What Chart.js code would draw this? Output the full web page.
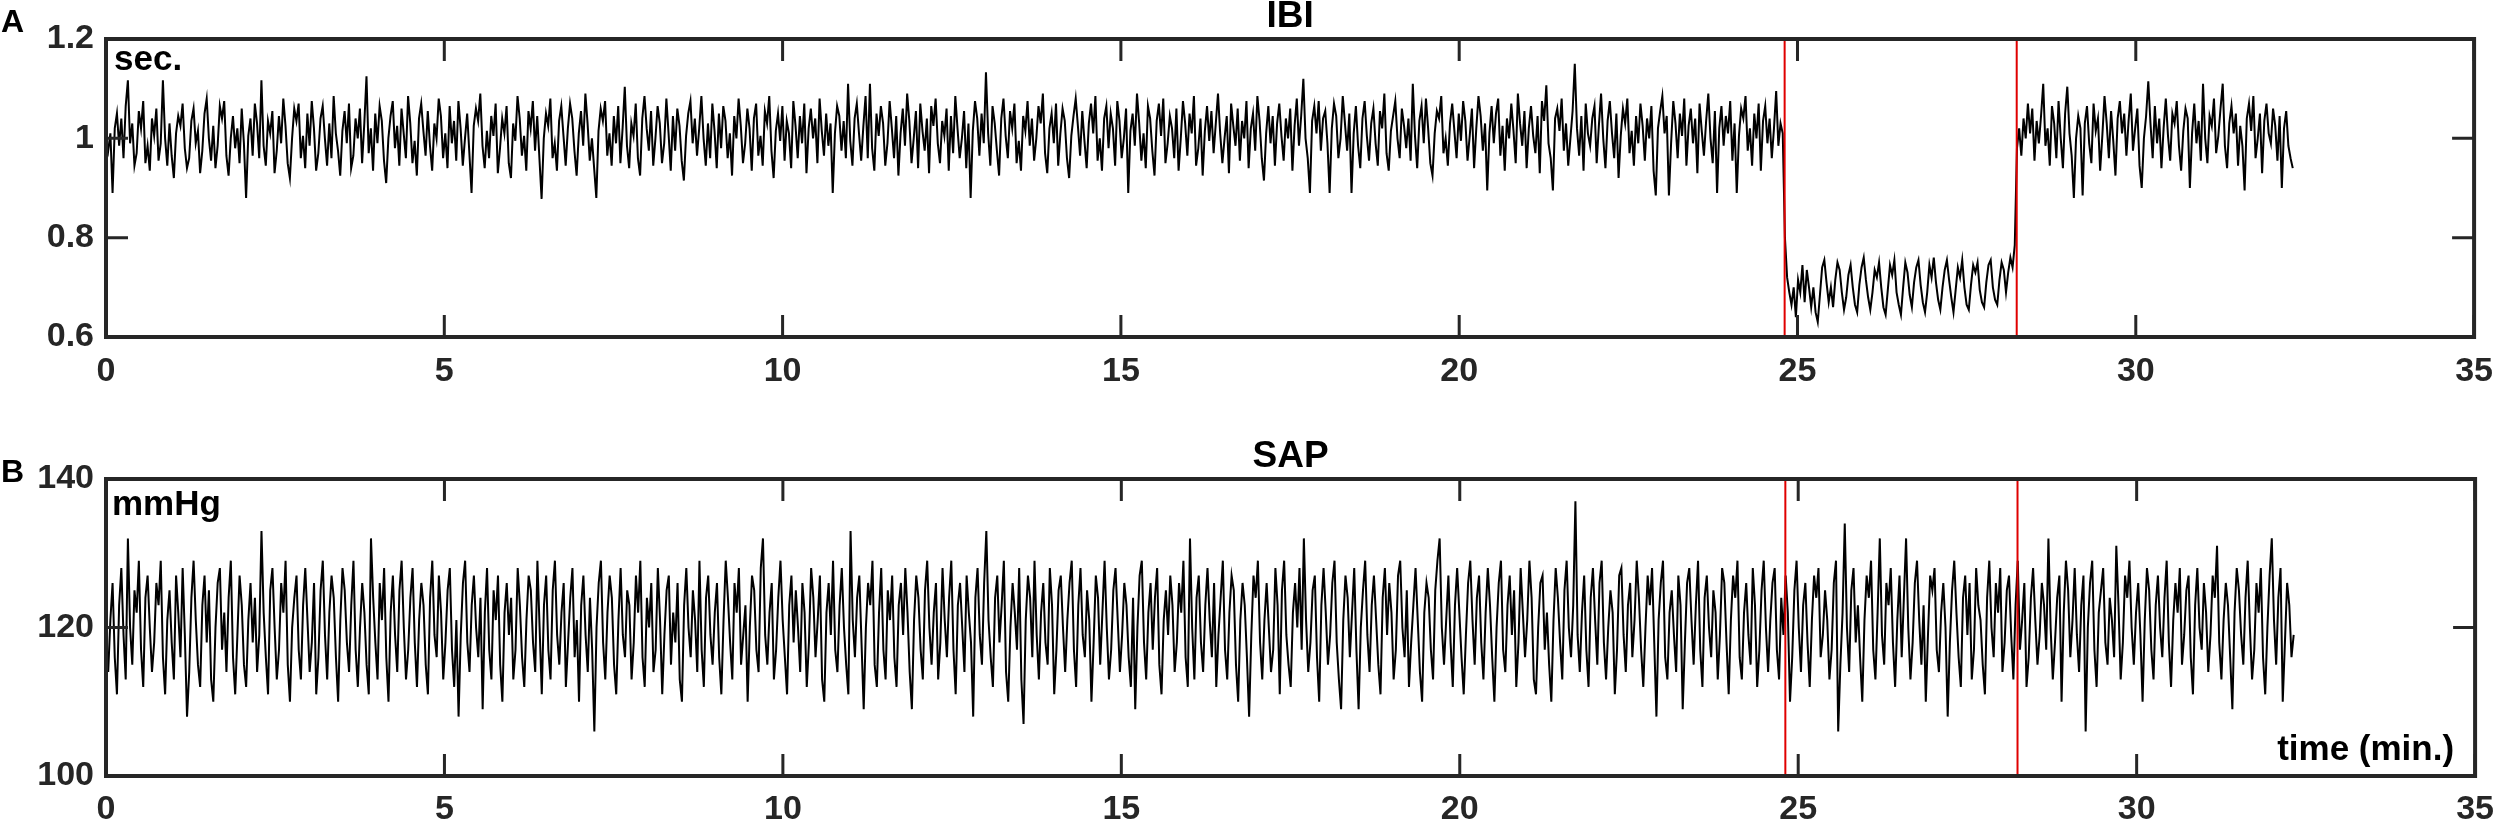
<!DOCTYPE html>
<html>
<head>
<meta charset="utf-8">
<script src="https://cdn.jsdelivr.net/npm/chart.js@4.4.1/dist/chart.umd.min.js"></script>
<style>
	html, body { margin: 0; padding: 0; background: #fff; }
	#wrap { position: relative; width: 2507px; height: 823px; overflow: hidden; }
	#wrap canvas { position: absolute; left: 0; }
</style>
</head>
<body>
<div id="wrap">
	<canvas id="ibiChart" width="2507" height="420" style="top:0"></canvas>
	<canvas id="sapChart" width="2507" height="403" style="top:420px"></canvas>
</div>
<script>
// time of last sample, minutes (samples are evenly spaced from 0)
const recordEnd = 32.32;
// red markers: start and end of the intervention, minutes
const markerTimes = [24.81, 28.24];

const xTicks = [0, 5, 10, 15, 20, 25, 30, 35];
const ibiTicks = [0.6, 0.8, 1.0, 1.2];
const sapTicks = [100, 120, 140];

// IBI, milliseconds
const ibiMs = [
	1000, 975, 1010, 890, 1020, 1050, 985, 1040, 960, 1065, 1117, 990, 1030, 945, 970, 1055, 1020, 1075, 950, 985,
	935, 1040, 1005, 1060, 955, 990, 1117, 1000, 945, 1030, 965, 920, 1010, 1045, 1025, 1070, 980, 940, 960, 1035,
	1060, 990, 1015, 930, 975, 1050, 1080, 1000, 955, 1025, 940, 985, 1065, 1040, 1075, 965, 925, 1000, 1045, 980,
	1020, 950, 1060, 990, 880, 1005, 1040, 965, 1070, 1030, 960, 1117, 985, 945, 1035, 1010, 1055, 930, 975, 1045,
	990, 1080, 1025, 950, 920, 1000, 1060, 1035, 1070, 960, 1005, 940, 1050, 985, 1075, 1020, 935, 970, 1040, 1065,
	1000, 945, 1030, 960, 1085, 1010, 975, 925, 1015, 1055, 990, 1070, 940, 965, 1040, 1000, 1060, 950, 1030, 1125,
	970, 1020, 935, 1050, 990, 1065, 1035, 955, 910, 1000, 1045, 1075, 980, 1025, 945, 1060, 1010, 960, 1085, 1030,
	950, 995, 925, 1040, 1070, 1015, 965, 1055, 985, 935, 1030, 1000, 1080, 1045, 960, 1010, 940, 1065, 990, 1035,
	955, 1075, 1020, 945, 1000, 1050, 970, 890, 1025, 1060, 1035, 1090, 985, 940, 1015, 960, 1045, 1005, 1070, 930,
	980, 1040, 1010, 1065, 950, 920, 1030, 995, 1085, 1040, 965, 1005, 935, 1055, 1020, 1075, 975, 1045, 960, 878,
	1000, 1050, 1025, 1080, 960, 990, 935, 1035, 1065, 1005, 945, 1020, 1070, 1040, 975, 925, 1010, 1055, 985, 1090,
	1030, 955, 1000, 940, 880, 1015, 1060, 1035, 1075, 965, 1010, 945, 1045, 990, 1065, 950, 1020, 1104, 985, 940,
	1030, 1005, 1070, 960, 925, 1040, 1085, 1020, 975, 1055, 945, 1000, 1065, 1030, 950, 990, 1080, 1010, 935, 1045,
	975, 1060, 1025, 955, 915, 1005, 1050, 1075, 990, 1040, 965, 1020, 1085, 1000, 945, 1030, 960, 1070, 1015, 940,
	1050, 980, 1065, 1035, 960, 1010, 925, 1045, 1000, 1080, 1025, 950, 990, 1060, 1020, 935, 1040, 1070, 965, 1005,
	945, 1055, 1030, 1085, 975, 920, 1015, 1050, 995, 1065, 955, 1035, 1010, 940, 1075, 1025, 960, 1045, 990, 1070,
	930, 1020, 1060, 1000, 1040, 950, 1080, 1015, 965, 1050, 985, 1030, 890, 1010, 1065, 1045, 975, 1035, 960, 1110,
	995, 945, 1040, 1070, 1010, 955, 1025, 1085, 960, 1110, 980, 935, 1050, 1005, 1065, 1030, 945, 990, 1075, 1020,
	960, 1045, 925, 1010, 1060, 985, 1090, 1035, 950, 1000, 1055, 940, 1070, 1015, 975, 1040, 930, 1065, 1025, 1080,
	990, 950, 1035, 1005, 1060, 935, 1045, 970, 1085, 1020, 960, 1000, 1055, 940, 1030, 880, 1015, 1075, 1040, 965,
	1050, 990, 1133, 1010, 945, 1065, 1030, 975, 925, 1040, 1080, 1005, 960, 1055, 1020, 1070, 950, 995, 935, 1045,
	1015, 1075, 985, 1040, 955, 1000, 1065, 1030, 1090, 970, 930, 1020, 1050, 990, 1070, 945, 1010, 1060, 1035, 960,
	920, 1005, 1045, 1080, 1025, 965, 1055, 995, 940, 1030, 1070, 1010, 1085, 955, 1000, 935, 1040, 1065, 980, 1050,
	1020, 945, 1075, 1035, 960, 1000, 1060, 890, 1015, 1050, 985, 1090, 1030, 955, 1010, 940, 1065, 1040, 975, 925,
	1035, 1070, 1005, 1080, 950, 990, 1045, 1020, 960, 1060, 935, 1000, 1075, 1030, 965, 1050, 1010, 1085, 945, 980,
	1040, 925, 1015, 1065, 995, 1055, 970, 1030, 1090, 1010, 950, 1000, 1045, 930, 1070, 1025, 985, 1060, 955, 1035,
	1000, 1075, 940, 1020, 1050, 975, 1085, 1035, 960, 915, 1010, 1065, 990, 1045, 945, 1030, 1070, 1005, 955, 1040,
	1000, 1060, 935, 1025, 1080, 985, 1045, 1120, 1000, 960, 890, 1035, 1065, 1010, 1075, 975, 1040, 1055, 990, 890,
	1020, 1070, 1045, 960, 1000, 1085, 1030, 975, 1050, 890, 1010, 1065, 985, 940, 1040, 1075, 1005, 955, 1030, 1060,
	990, 945, 1055, 1020, 1090, 970, 935, 1015, 1045, 1075, 1000, 960, 1060, 1025, 980, 1040, 955, 1110, 1005, 940,
	1035, 1065, 990, 1080, 1020, 950, 925, 1010, 1055, 1040, 1085, 970, 1000, 945, 1030, 1070, 1015, 960, 1050, 995,
	1075, 1035, 955, 1005, 1060, 940, 1020, 1085, 1045, 975, 1030, 895, 1010, 1065, 990, 1050, 1080, 965, 1025, 935,
	1040, 1000, 1070, 1015, 950, 1090, 1030, 985, 1055, 940, 1020, 1065, 1005, 970, 1045, 930, 1075, 1035, 1107, 990,
	960, 895, 1040, 1060, 1015, 1080, 975, 1030, 945, 1000, 1055, 1150, 1020, 965, 1045, 935, 1070, 1010, 985, 1040,
	1065, 950, 1025, 1090, 1000, 940, 1035, 1075, 1010, 960, 1050, 920, 1005, 1060, 1030, 1080, 970, 1015, 945, 1045,
	990, 1070, 1025, 955, 1040, 1000, 1065, 935, 885, 1020, 1055, 1085, 1010, 1045, 885, 990, 1075, 1030, 960, 1050,
	1005, 1080, 945, 1025, 1060, 990, 1040, 930, 1070, 1015, 965, 1035, 1090, 1000, 950, 1055, 890, 1020, 1065, 985,
	1045, 1010, 1075, 955, 1030, 890, 1005, 1060, 1040, 1085, 975, 1020, 945, 1050, 1000, 1070, 935, 1035, 1065, 990,
	1040, 960, 1020, 1095, 985, 1030, 1010, 800, 720, 690, 665, 700, 640, 715, 690, 745, 670, 735, 700, 660,
	700, 650, 630, 685, 740, 755, 710, 670, 700, 660, 715, 750, 735, 690, 655, 680, 725, 745, 700, 665,
	650, 705, 740, 760, 715, 680, 655, 690, 735, 720, 750, 700, 660, 645, 695, 745, 725, 755, 690, 665,
	645, 700, 750, 730, 685, 660, 710, 740, 755, 705, 670, 650, 690, 745, 720, 760, 710, 675, 655, 700,
	735, 755, 715, 680, 650, 695, 740, 720, 755, 700, 665, 655, 705, 745, 730, 750, 695, 670, 660, 710,
	745, 755, 700, 675, 665, 715, 750, 735, 690, 730, 760, 740, 785, 980, 1020, 965, 1040, 1000, 1070, 1010,
	1060, 955, 1035, 990, 1045, 1110, 985, 1020, 945, 1065, 1030, 960, 1075, 1000, 940, 1050, 1104, 1010, 965, 880,
	1000, 1045, 1020, 885, 1030, 1065, 990, 950, 1070, 1015, 1040, 935, 1005, 1085, 1030, 960, 1055, 995, 925, 1040,
	1075, 1010, 1050, 965, 1035, 1090, 975, 1020, 1060, 945, 900, 1000, 1045, 1115, 1030, 960, 1065, 990, 1040, 940,
	1020, 1080, 1005, 955, 1050, 1030, 1075, 985, 935, 1015, 1060, 1040, 900, 1010, 1070, 990, 1035, 955, 1110, 1000,
	950, 1045, 1025, 1080, 970, 1005, 1060, 1110, 985, 940, 1030, 1065, 1010, 1050, 945, 1025, 985, 895, 1040, 1070,
	1015, 1085, 960, 1000, 1050, 930, 1035, 1070, 1010, 990, 1060, 1025, 955, 1045, 900, 1020, 1055, 985, 960, 940,
];

// SAP, mmHg
const sapMmHg = [
	118, 114, 121, 126, 116, 111, 123, 128, 119, 113, 132, 120, 115, 125, 122, 129, 117, 112, 124, 127,
	120, 114, 118, 126, 123, 129, 116, 111, 121, 125, 118, 113, 127, 122, 116, 128, 119, 108, 114, 124,
	129, 121, 115, 112, 123, 127, 118, 125, 113, 110, 120, 126, 128, 117, 122, 114, 124, 129, 116, 111,
	119, 127, 123, 115, 112, 121, 126, 118, 124, 114, 119, 133, 122, 116, 111, 125, 128, 120, 113, 117,
	126, 122, 129, 115, 110, 120, 124, 127, 117, 113, 123, 128, 121, 114, 118, 126, 111, 116, 125, 129,
	119, 113, 122, 127, 124, 116, 110, 121, 128, 125, 118, 114, 123, 129, 117, 112, 120, 126, 122, 115,
	111, 132, 124, 118, 113, 126, 121, 128, 116, 110, 122, 127, 119, 114, 125, 129, 120, 113, 117, 124,
	128, 118, 112, 121, 126, 123, 115, 111, 124, 129, 119, 116, 127, 122, 113, 118, 125, 128, 117, 112,
	121, 108, 119, 126, 129, 118, 114, 123, 127, 120, 116, 124, 109, 122, 128, 117, 113, 125, 121, 127,
	115, 110, 122, 126, 119, 124, 113, 117, 128, 123, 116, 112, 121, 127, 125, 118, 114, 129, 120, 111,
	123, 127, 117, 113, 125, 129, 119, 115, 122, 126, 112, 118, 124, 128, 116, 121, 110, 123, 127, 119,
	114, 124, 117, 106, 120, 126, 129, 118, 113, 122, 127, 124, 115, 111, 121, 128, 119, 116, 125, 123,
	113, 118, 127, 122, 129, 116, 112, 124, 120, 126, 114, 117, 128, 121, 111, 119, 125, 127, 115, 122,
	118, 126, 113, 110, 123, 128, 120, 116, 125, 121, 114, 129, 117, 112, 124, 127, 119, 115, 122, 126,
	116, 111, 121, 129, 124, 118, 113, 126, 122, 128, 115, 119, 123, 110, 120, 127, 125, 117, 114, 128,
	132, 119, 115, 122, 126, 113, 117, 124, 129, 121, 116, 111, 123, 127, 118, 125, 120, 114, 126, 122,
	112, 118, 128, 124, 116, 121, 127, 113, 110, 122, 126, 119, 129, 117, 114, 123, 128, 120, 115, 111,
	133, 121, 116, 124, 127, 118, 109, 120, 126, 123, 129, 115, 112, 122, 128, 117, 113, 125, 121, 127,
	116, 112, 123, 126, 119, 128, 122, 114, 109, 121, 127, 124, 117, 113, 125, 129, 120, 115, 122, 126,
	113, 118, 128, 121, 116, 124, 129, 117, 111, 123, 126, 120, 114, 127, 122, 118, 108, 124, 128, 119,
	115, 126, 133, 121, 116, 112, 124, 127, 118, 123, 129, 114, 110, 120, 126, 122, 117, 128, 113, 107,
	121, 127, 124, 116, 129, 119, 113, 122, 126, 118, 115, 128, 123, 111, 117, 125, 127, 120, 114, 121,
	126, 129, 117, 112, 123, 128, 119, 116, 125, 121, 110, 118, 127, 124, 115, 122, 129, 120, 113, 117,
	125, 128, 121, 114, 119, 126, 123, 116, 112, 124, 109, 120, 127, 129, 118, 113, 122, 126, 117, 124,
	128, 115, 111, 121, 125, 119, 127, 123, 114, 118, 126, 122, 129, 116, 112, 132, 120, 113, 124, 127,
	118, 114, 123, 128, 121, 116, 126, 112, 119, 124, 129, 117, 113, 122, 127, 125, 115, 110, 121, 126,
	123, 116, 108, 119, 127, 124, 129, 118, 113, 121, 126, 120, 114, 117, 128, 123, 111, 125, 129, 119,
	115, 112, 122, 126, 120, 128, 117, 132, 121, 114, 118, 125, 127, 116, 110, 123, 128, 122, 115, 119,
	126, 129, 118, 113, 109, 121, 127, 124, 116, 122, 128, 117, 109, 120, 125, 129, 119, 114, 123, 127,
	121, 115, 111, 124, 128, 119, 126, 122, 113, 117, 127, 129, 120, 116, 125, 112, 118, 123, 128, 121,
	114, 110, 122, 126, 124, 117, 113, 125, 129, 132, 120, 115, 121, 127, 118, 112, 123, 128, 122, 116,
	111, 119, 126, 129, 121, 115, 124, 127, 118, 113, 122, 128, 123, 116, 110, 120, 126, 129, 117, 114,
	123, 127, 119, 125, 112, 118, 128, 122, 116, 121, 129, 124, 113, 111, 120, 126, 127, 117, 122, 115,
	110, 121, 128, 124, 118, 113, 125, 129, 120, 116, 123, 137, 119, 114, 122, 127, 117, 112, 124, 128,
	121, 115, 126, 129, 118, 113, 120, 125, 122, 111, 117, 127, 128, 119, 114, 123, 126, 116, 121, 129,
	124, 117, 112, 120, 127, 123, 128, 118, 108, 121, 126, 129, 116, 113, 122, 125, 119, 114, 127, 123,
	109, 118, 126, 128, 121, 115, 123, 129, 117, 112, 124, 127, 120, 116, 125, 122, 113, 119, 128, 126,
	118, 111, 121, 127, 124, 129, 116, 113, 122, 126, 119, 115, 128, 123, 112, 117, 125, 129, 120, 114,
	121, 126, 128, 117, 113, 124, 119, 127, 122, 110, 116, 125, 129, 120, 114, 123, 126, 118, 112, 121,
	127, 124, 128, 116, 119, 125, 121, 113, 117, 126, 129, 106, 115, 122, 134, 120, 114, 125, 128, 118,
	123, 116, 110, 121, 127, 124, 129, 117, 113, 122, 132, 119, 115, 126, 123, 128, 118, 112, 121, 127,
	116, 124, 132, 120, 113, 118, 126, 129, 121, 115, 123, 110, 119, 127, 125, 128, 117, 114, 122, 126,
	120, 108, 118, 125, 129, 122, 116, 112, 124, 127, 119, 126, 113, 117, 128, 123, 121, 115, 111, 124,
	129, 120, 116, 126, 122, 128, 114, 118, 125, 127, 119, 113, 123, 129, 117, 121, 126, 112, 116, 124,
	128, 121, 115, 119, 126, 123, 117, 132, 120, 113, 118, 124, 127, 110, 122, 129, 125, 116, 121, 128,
	119, 114, 123, 127, 106, 120, 126, 129, 117, 112, 122, 125, 128, 118, 115, 124, 121, 116, 131, 123,
	113, 118, 127, 124, 129, 120, 115, 122, 126, 119, 110, 121, 128, 125, 117, 113, 123, 127, 120, 116,
	124, 129, 118, 112, 121, 126, 122, 128, 115, 119, 125, 127, 116, 111, 123, 128, 120, 117, 126, 122,
	114, 119, 127, 124, 131, 118, 113, 121, 126, 123, 116, 109, 122, 128, 125, 119, 115, 124, 129, 120,
	113, 117, 126, 122, 128, 116, 111, 120, 127, 132, 121, 115, 124, 128, 110, 118, 126, 123, 116, 119,
];

const FONT = '"Liberation Sans", Arial, sans-serif';
const AXIS_COLOR = '#262626';

function toPoints(values, scale)
{
	const step = recordEnd / (values.length - 1);
	return values.map((v, i) => ({x: i * step, y: v * scale}));
}

function markerSets(yMin, yMax)
{
	return markerTimes.map(t => ({
		data: [{x: t, y: yMin}, {x: t, y: yMax}],
		borderColor: '#e00000',
		borderWidth: 2,
		pointRadius: 0,
		order: 0,
	}));
}

// MATLAB-like box with inward ticks, plus title and panel texts
const boxPlugin = {
	id: 'box',
	afterDatasetsDraw(chart, args, opts)
	{
		const {ctx, chartArea: a, scales} = chart;
		ctx.save();
		ctx.strokeStyle = AXIS_COLOR;
		ctx.lineWidth = 3;
		const tl = 22;
		ctx.beginPath();
		scales.x.ticks.forEach(t => {
			const px = scales.x.getPixelForValue(t.value);
			ctx.moveTo(px, a.bottom); ctx.lineTo(px, a.bottom - tl);
			ctx.moveTo(px, a.top); ctx.lineTo(px, a.top + tl);
		});
		scales.y.ticks.forEach(t => {
			const py = scales.y.getPixelForValue(t.value);
			ctx.moveTo(a.left, py); ctx.lineTo(a.left + tl, py);
			ctx.moveTo(a.right, py); ctx.lineTo(a.right - tl, py);
		});
		ctx.stroke();
		ctx.lineWidth = 4;
		ctx.strokeRect(a.left, a.top, a.right - a.left, a.bottom - a.top);

		ctx.fillStyle = '#000';
		ctx.textBaseline = 'alphabetic';
		(opts.texts || []).forEach(t => {
			ctx.font = 'bold ' + t.size + 'px ' + FONT;
			ctx.textAlign = t.align || 'left';
			ctx.fillText(t.text, t.x(a), t.y(a));
		});
		ctx.restore();
	}
};

function makeChart(id, opt)
{
	return new Chart(document.getElementById(id), {
		type: 'line',
		data: {
			datasets: [
				...markerSets(opt.yMin, opt.yMax),
				{
					data: opt.points,
					borderColor: '#000',
					borderWidth: 2,
					pointRadius: 0,
					tension: 0,
					order: 1,
				},
			],
		},
		options: {
			responsive: false,
			animation: false,
			devicePixelRatio: 1,
			events: [],
			layout: {padding: {left: 0, right: 22, top: opt.top, bottom: 0}},
			scales: {
				x: {
					type: 'linear',
					min: 0, max: 35,
					afterBuildTicks: s => { s.ticks = xTicks.map(v => ({value: v})); },
					afterFit: s => { s.height = opt.xAxisHeight; },
					grid: {display: false, drawTicks: false},
					border: {display: false},
					ticks: {
						padding: opt.xPad,
						color: AXIS_COLOR,
						font: {family: FONT, size: 34, weight: 'bold'},
						maxRotation: 0,
					},
				},
				y: {
					min: opt.yMin, max: opt.yMax,
					afterBuildTicks: s => { s.ticks = opt.yTicks.map(v => ({value: v})); },
					afterFit: s => { s.width = 106; },
					grid: {display: false, drawTicks: false},
					border: {display: false},
					ticks: {
						padding: 12,
						color: AXIS_COLOR,
						font: {family: FONT, size: 34, weight: 'bold'},
						callback: v => String(+v.toFixed(1)),
					},
				},
			},
			plugins: {
				legend: {display: false},
				tooltip: {enabled: false},
				title: {display: false},
				box: {texts: opt.texts},
			},
		},
		plugins: [boxPlugin],
	});
}

makeChart('ibiChart', {
	top: 39,
	points: toPoints(ibiMs, 0.001),
	yMin: 0.6, yMax: 1.2,
	yTicks: ibiTicks,
	xAxisHeight: 83,
	xPad: 14,
	texts: [
		{text: 'IBI', size: 37, align: 'center', x: a => (a.left + a.right) / 2, y: a => 27},
		{text: 'A', size: 32, x: a => 1, y: a => 32},
		{text: 'sec.', size: 35, x: a => a.left + 8, y: a => a.top + 31},
	],
});

makeChart('sapChart', {
	top: 59,
	points: toPoints(sapMmHg, 1),
	yMin: 100, yMax: 140,
	yTicks: sapTicks,
	xAxisHeight: 47,
	xPad: 13,
	texts: [
		{text: 'SAP', size: 37, align: 'center', x: a => (a.left + a.right) / 2, y: a => 47},
		{text: 'B', size: 32, x: a => 1, y: a => 62},
		{text: 'mmHg', size: 35, x: a => a.left + 6, y: a => a.top + 36},
		{text: 'time (min.)', size: 35, align: 'right', x: a => a.right - 21, y: a => a.bottom - 16},
	],
});
</script>
</body>
</html>
